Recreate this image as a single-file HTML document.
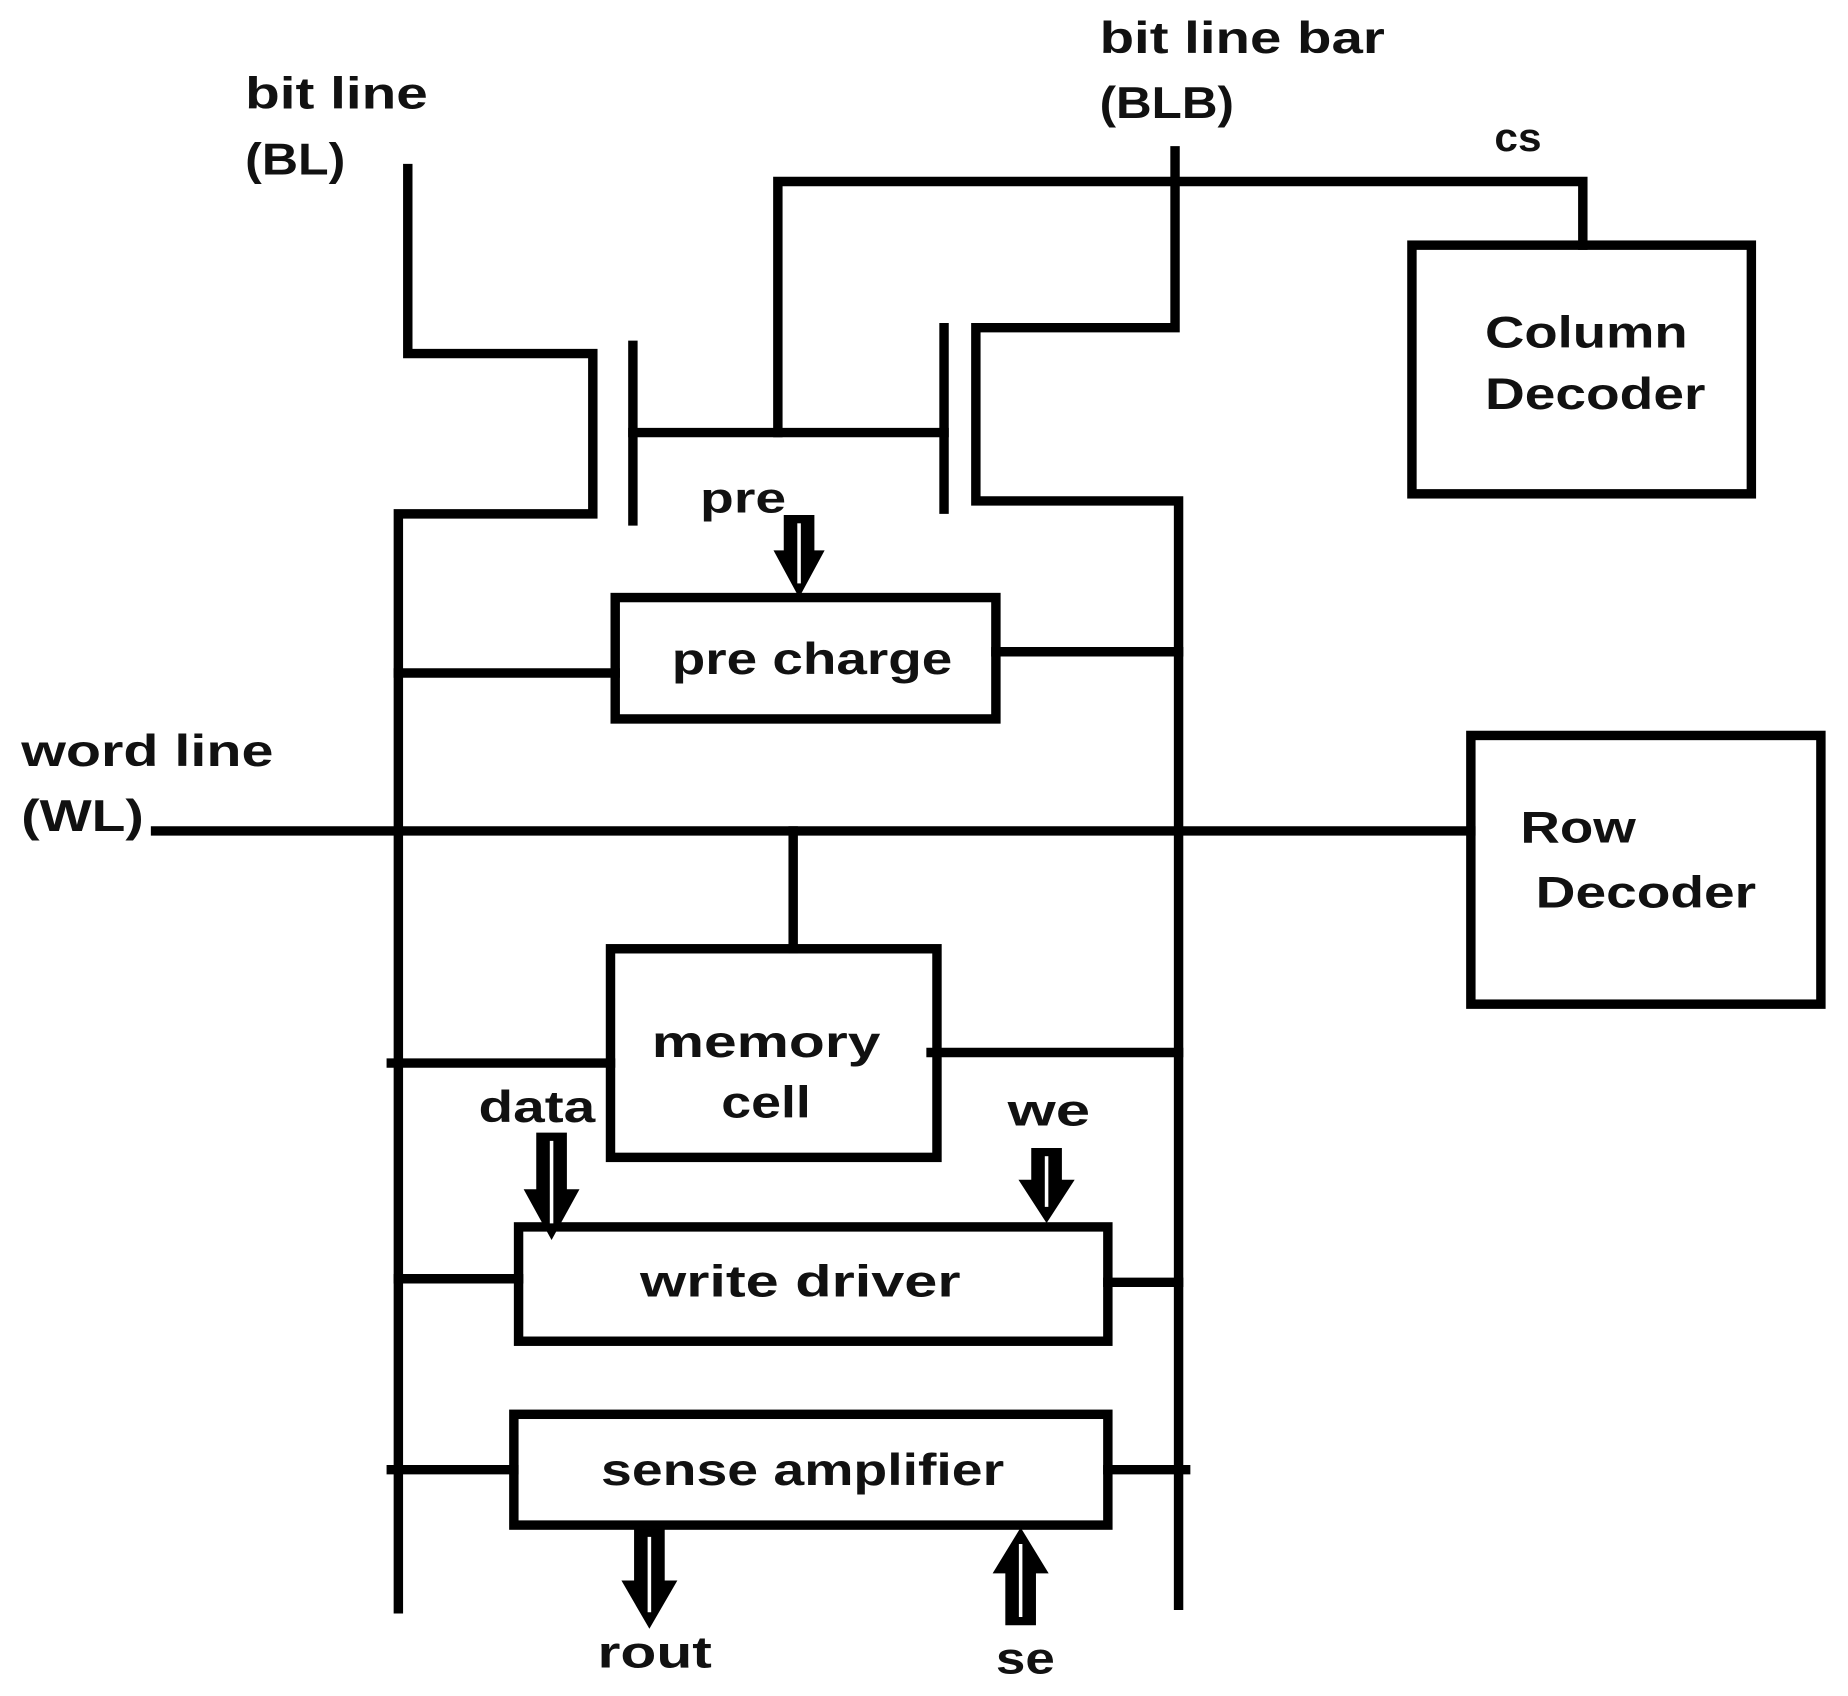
<!DOCTYPE html>
<html><head><meta charset="utf-8"><style>
html,body{margin:0;padding:0;background:#fff}
svg{display:block}
text{font-family:"Liberation Sans",sans-serif;font-weight:bold;fill:#111}
</style></head><body>
<svg width="1848" height="1696" viewBox="0 0 1568 1439" xmlns="http://www.w3.org/2000/svg">
<g stroke="#000" stroke-width="8" fill="none" stroke-linecap="square">
<polyline points="346,143 346,300 503,300 503,436 338,436 338,1365"/>
<line x1="537" y1="293" x2="537" y2="442"/>
<line x1="801" y1="278" x2="801" y2="432"/>
<line x1="537" y1="367" x2="801" y2="367"/>
<polyline points="660,367 660,154 1343,154 1343,208"/>
<polyline points="997,128 997,278 828,278 828,425 1000,425 1000,1362"/>
<rect x="1198" y="208" width="288" height="211"/>
<rect x="522" y="507" width="323" height="103"/>
<line x1="338" y1="571" x2="522" y2="571"/>
<line x1="845" y1="553" x2="1000" y2="553"/>
<line x1="132" y1="705" x2="1248" y2="705"/>
<rect x="1248" y="624" width="297" height="228"/>
<line x1="673" y1="705" x2="673" y2="805"/>
<rect x="518" y="805" width="277" height="177"/>
<line x1="332" y1="902" x2="518" y2="902"/>
<line x1="790" y1="893" x2="1000" y2="893"/>
<rect x="440" y="1041" width="500" height="97"/>
<line x1="338" y1="1085" x2="440" y2="1085"/>
<line x1="940" y1="1088" x2="1000" y2="1088"/>
<rect x="436" y="1200" width="504" height="94"/>
<line x1="332" y1="1247" x2="436" y2="1247"/>
<line x1="940" y1="1247" x2="1006" y2="1247"/>
</g>
<g fill="#000" stroke="#000" stroke-width="2">
<path d="M666,438 H690 V468 H698 L678,505 L658,468 H666 Z"/>
<path d="M456,962 H480 V1010 H490 L468,1050 L446,1010 H456 Z"/>
<path d="M876,975 H900 V1002 H910 L888,1036 L866,1002 H876 Z"/>
<path d="M539,1298 H563 V1342 H573 L551,1380 L529,1342 H539 Z"/>
<path d="M854,1378 H878 V1334 H888 L866,1298 L844,1334 H854 Z"/>
</g>
<g stroke="#fff" stroke-width="3">
<line x1="678" y1="444" x2="678" y2="495"/>
<line x1="468" y1="968" x2="468" y2="1038"/>
<line x1="888" y1="981" x2="888" y2="1024"/>
<line x1="551" y1="1304" x2="551" y2="1368"/>
<line x1="866" y1="1310" x2="866" y2="1372"/>
</g>
<g font-size="38" lengthAdjust="spacingAndGlyphs">
<text x="208" y="92" textLength="155" lengthAdjust="spacingAndGlyphs">bit line</text>
<text x="208" y="148" textLength="85" lengthAdjust="spacingAndGlyphs">(BL)</text>
<text x="933" y="45" textLength="242" lengthAdjust="spacingAndGlyphs">bit line bar</text>
<text x="933" y="100" textLength="114" lengthAdjust="spacingAndGlyphs">(BLB)</text>
<text x="1268" y="128" font-size="34" textLength="40" lengthAdjust="spacingAndGlyphs">cs</text>
<text x="1260" y="295" textLength="172" lengthAdjust="spacingAndGlyphs">Column</text>
<text x="1260" y="347" textLength="187" lengthAdjust="spacingAndGlyphs">Decoder</text>
<text x="594" y="435" font-weight="normal" font-size="36" textLength="73" lengthAdjust="spacingAndGlyphs">pre</text>
<text x="570" y="572" font-weight="normal" font-size="38" textLength="238" lengthAdjust="spacingAndGlyphs">pre charge</text>
<text x="18" y="650" textLength="214" lengthAdjust="spacingAndGlyphs">word line</text>
<text x="18" y="705" textLength="104" lengthAdjust="spacingAndGlyphs">(WL)</text>
<text x="1290" y="715" textLength="98" lengthAdjust="spacingAndGlyphs">Row</text>
<text x="1303" y="770" textLength="187" lengthAdjust="spacingAndGlyphs">Decoder</text>
<text x="553" y="897" textLength="194" lengthAdjust="spacingAndGlyphs">memory</text>
<text x="612" y="948" textLength="76" lengthAdjust="spacingAndGlyphs">cell</text>
<text x="406" y="952" textLength="99" lengthAdjust="spacingAndGlyphs">data</text>
<text x="855" y="955" textLength="70" lengthAdjust="spacingAndGlyphs">we</text>
<text x="543" y="1100" textLength="272" lengthAdjust="spacingAndGlyphs">write driver</text>
<text x="510" y="1260" textLength="342" lengthAdjust="spacingAndGlyphs">sense amplifier</text>
<text x="507" y="1415" textLength="97" lengthAdjust="spacingAndGlyphs">rout</text>
<text x="845" y="1420" textLength="50" lengthAdjust="spacingAndGlyphs">se</text>
</g>
</svg>
</body></html>
